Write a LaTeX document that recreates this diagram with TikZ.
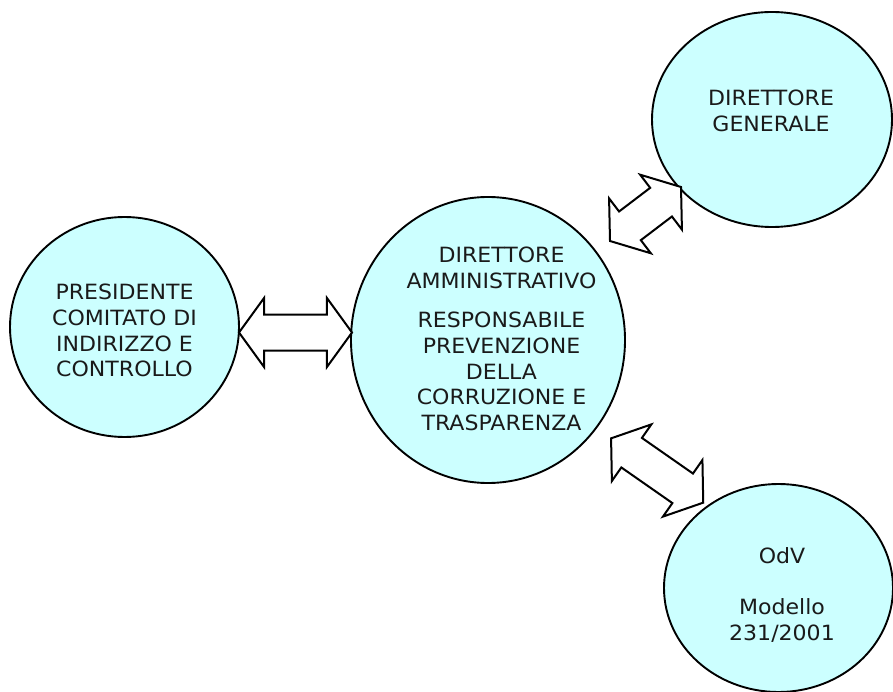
\documentclass[tikz,border=0pt]{standalone}
\usepackage{fontspec}
\setmainfont{DejaVu Sans}[FakeStretch=1.05]
\usetikzlibrary{shapes.geometric,shapes.arrows,calc}
\definecolor{cyanfill}{HTML}{CCFFFF}
\definecolor{txt}{HTML}{1A1A1A}
\tikzset{
  bubble/.style={ellipse, draw=black, line width=1.9pt, fill=cyanfill, inner sep=0pt},
  label/.style={align=center, anchor=north, inner sep=0pt, text=txt,
    font=\fontsize{21}{25.7}\selectfont},
  dblarrow/.style={double arrow, draw=black, line width=2pt, fill=white,
    inner xsep=0pt, inner ysep=17pt, double arrow head extend=16.5pt,
    double arrow tip angle=108}
}
\begin{document}
\begin{tikzpicture}[x=1pt,y=-1pt]
\useasboundingbox (0,0) rectangle (893,692);
% circles
\node[bubble, minimum width=229pt, minimum height=220pt] (pres) at (124.5,327) {};
\node[bubble, minimum width=274pt, minimum height=286pt] (dir) at (488,340) {};
\node[bubble, minimum width=240pt, minimum height=215pt] (dg) at (772,119.5) {};
\node[bubble, minimum width=229pt, minimum height=208pt] (odv) at (778.5,588) {};
% texts
\node[label] (tpres) at (124.5,284) {PRESIDENTE\\COMITATO DI\\INDIRIZZO E\\CONTROLLO};
\node[label] (tdir) at (501.5,247) {DIRETTORE\\AMMINISTRATIVO\\[13.7pt]RESPONSABILE\\PREVENZIONE\\DELLA\\CORRUZIONE E\\TRASPARENZA};
\node[label] (tdg) at (771,89.7) {DIRETTORE\\GENERALE};
\node[label] (todv) at (782,547) {OdV\\[26pt]Modello\\231/2001};
% arrow end points
\coordinate (h1) at (239,332.5);
\coordinate (h2) at (352,332.5);
\coordinate (u1) at (610,241);
\coordinate (u2) at (681,187);
\coordinate (l1) at (611,438.3);
\coordinate (l2) at (703.3,502.7);
% double block arrows
\path let \p1=($(h2)-(h1)$), \n1={atan2(\y1,\x1)}, \n2={veclen(\x1,\y1)} in
  node[dblarrow, rotate=\n1, minimum height=\n2] (ah) at ($(h1)!0.5!(h2)$) {};
\path let \p1=($(u2)-(u1)$), \n1={atan2(\y1,\x1)}, \n2={veclen(\x1,\y1)} in
  node[dblarrow, rotate=\n1, minimum height=\n2] (au) at ($(u1)!0.5!(u2)$) {};
\path let \p1=($(l2)-(l1)$), \n1={atan2(\y1,\x1)}, \n2={veclen(\x1,\y1)} in
  node[dblarrow, rotate=\n1, minimum height=\n2] (al) at ($(l1)!0.5!(l2)$) {};
\end{tikzpicture}
\end{document}
